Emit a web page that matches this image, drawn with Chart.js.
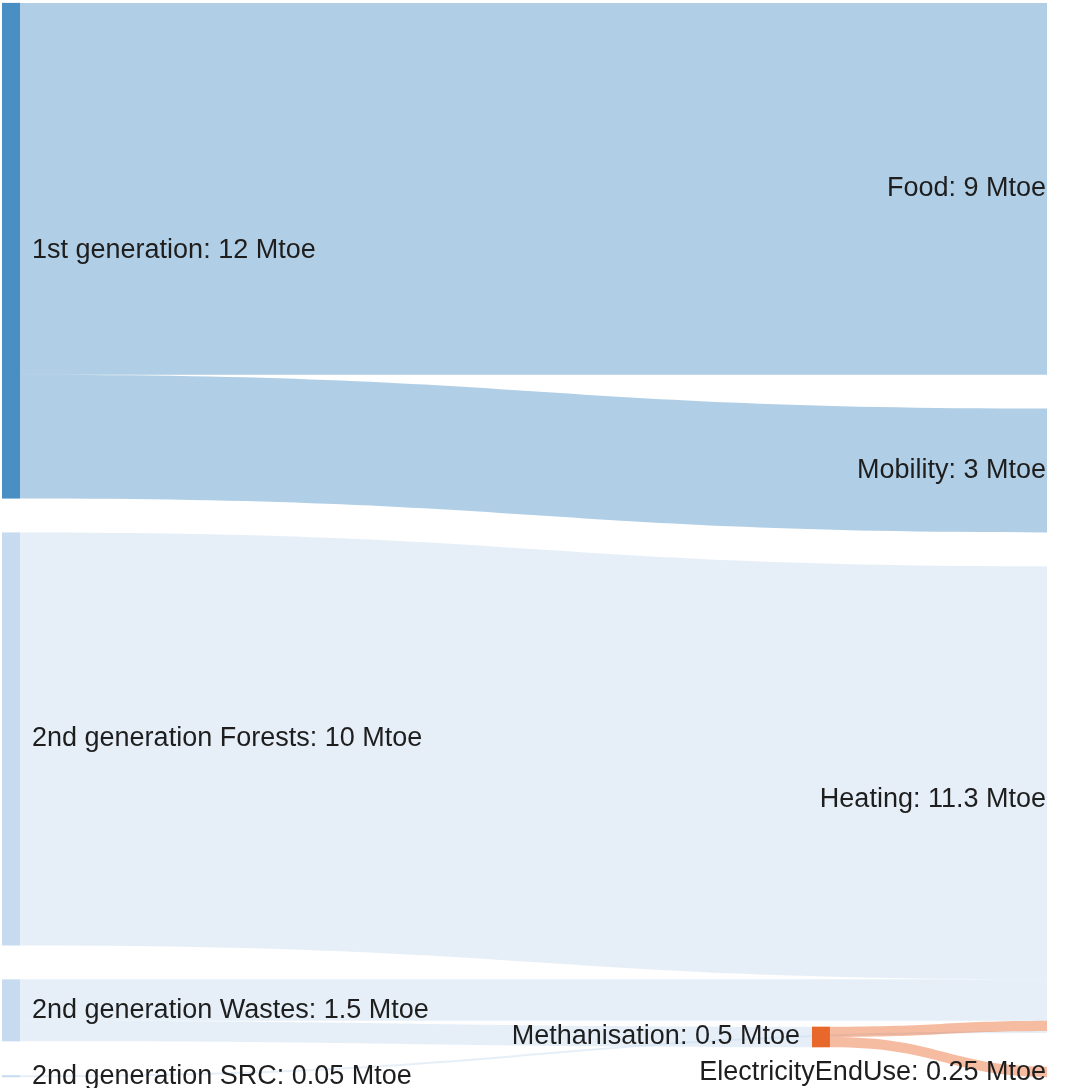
<!DOCTYPE html>
<html>
<head>
<meta charset="utf-8">
<script src="https://cdn.jsdelivr.net/npm/chart.js@4/dist/chart.umd.min.js"></script>
<style>
  html, body { margin: 0; padding: 0; background: #fff; }
  #wrap { width: 1076px; height: 1088px; }
</style>
</head>
<body>
<div id="wrap"><canvas id="sankey" width="1076" height="1088"></canvas></div>
<script>
// nodes (name, column)
const nodeNames = ['1st generation', '2nd generation Forests', '2nd generation Wastes', '2nd generation SRC',
    'Methanisation', 'Food', 'Mobility', 'Heating', 'ElectricityEndUse']
const nodeLevels = [0, 0, 0, 0, 1, 2, 2, 2, 2]

// flows, Mtoe
const linkFrom = ['1st generation', '1st generation', '2nd generation Forests', '2nd generation Wastes',
    '2nd generation Wastes', '2nd generation SRC', 'Methanisation', 'Methanisation']
const linkTo = ['Food', 'Mobility', 'Heating', 'Heating', 'Methanisation', 'Heating', 'Heating', 'ElectricityEndUse']
const linkValues = [9, 3, 10, 1, 0.5, 0.05, 0.25, 0.25]

const unit = 'Mtoe'

// ---- look ----
const nodeColors = ['#4a8fc4', '#c6dbef', '#c6dbef', '#c6dbef', '#e8672b', '#6baed6', '#6baed6', '#9ecae1', '#e8672b']
const linkAlpha = 0.44
const levelX = [0, 0.767, 1]      // column positions on x scale
const nodeWidth = 0.01705         // in x units
const nodeGap = 0.82              // in Mtoe
const visibleRight = 1047         // picture is cropped here
const labelPad = 12
const font = '27px "Liberation Sans", Arial, sans-serif'

function hexA(hex, a) {
    let n = parseInt(hex.slice(1), 16)
    return 'rgba(' + (n >> 16) + ',' + ((n >> 8) & 255) + ',' + (n & 255) + ',' + a + ')'
}

function buildLayout() {
    let nodes = nodeNames.map((name, i) => ({ name: name, level: nodeLevels[i], color: nodeColors[i], ins: [], outs: [] }))
    let byName = {}
    nodes.forEach(n => byName[n.name] = n)
    let links = linkValues.map((v, i) => {
        let l = { source: byName[linkFrom[i]], target: byName[linkTo[i]], value: v }
        l.source.outs.push(l)
        l.target.ins.push(l)
        return l
    })
    nodes.forEach(n => {
        let a = n.ins.reduce((s, l) => s + l.value, 0)
        let b = n.outs.reduce((s, l) => s + l.value, 0)
        n.value = Math.max(a, b)
    })

    // first and last columns are just stacked
    let levels = {}
    nodes.forEach(n => (levels[n.level] = levels[n.level] || []).push(n))
    Object.keys(levels).forEach(k => {
        let y = 0
        levels[k].forEach(n => {
            n.y0 = y
            n.y1 = y + n.value
            y = n.y1 + nodeGap
        })
    })

    function slots() {
        nodes.forEach(n => {
            let y = n.y0
            n.outs.slice().sort((p, q) => (p.target.y0 + p.target.y1) - (q.target.y0 + q.target.y1)).forEach(l => {
                l.sy0 = y; y += l.value; l.sy1 = y
            })
            y = n.y0
            n.ins.slice().sort((p, q) => (p.source.y0 + p.source.y1) - (q.source.y0 + q.source.y1)).forEach(l => {
                l.ty0 = y; y += l.value; l.ty1 = y
            })
        })
    }

    // middle column: pull towards the flows it connects
    let middle = nodes.filter(n => n.level !== 0 && n.level !== 2)
    for (let it = 0; it < 5; it++) {
        slots()
        middle.forEach(n => {
            let w = 0, s = 0
            n.ins.forEach(l => { s += l.value * (l.sy0 + l.sy1) / 2; w += l.value })
            let inC = s / w
            w = 0; s = 0
            n.outs.forEach(l => { s += l.value * (l.ty0 + l.ty1) / 2; w += l.value })
            let outC = s / w
            let c = (2 * inC + outC) / 3
            n.y0 = c - n.value / 2
            n.y1 = c + n.value / 2
        })
    }
    slots()
    return { nodes: nodes, links: links }
}

const graph = buildLayout()

const sankeyPlugin = {
    id: 'sankeyDraw',
    afterDatasetsDraw(chart) {
        let ctx = chart.ctx
        let xs = chart.scales.x, ys = chart.scales.y
        let px = v => xs.getPixelForValue(v)
        let py = v => ys.getPixelForValue(v)

        ctx.save()
        ctx.beginPath()
        ctx.rect(0, 0, visibleRight, chart.height)
        ctx.clip()

        // flows
        graph.links.forEach(l => {
            let x0 = px(levelX[l.source.level] + nodeWidth)
            let x1 = px(levelX[l.target.level])
            let xm = (x0 + x1) / 2
            ctx.beginPath()
            ctx.moveTo(x0, py(l.sy0))
            ctx.bezierCurveTo(xm, py(l.sy0), xm, py(l.ty0), x1, py(l.ty0))
            ctx.lineTo(x1, py(l.ty1))
            ctx.bezierCurveTo(xm, py(l.ty1), xm, py(l.sy1), x0, py(l.sy1))
            ctx.closePath()
            ctx.fillStyle = hexA(l.source.color, linkAlpha)
            ctx.fill()
        })

        // nodes
        graph.nodes.forEach(n => {
            let x0 = px(levelX[n.level]), x1 = px(levelX[n.level] + nodeWidth)
            ctx.fillStyle = n.color
            ctx.fillRect(x0, py(n.y0), x1 - x0, py(n.y1) - py(n.y0))
        })

        // labels
        ctx.font = font
        ctx.fillStyle = '#1e1e1e'
        ctx.textBaseline = 'middle'
        graph.nodes.forEach(n => {
            let val = Math.round(n.value * 100) / 100
            let txt = n.name + ': ' + val + ' ' + unit
            let yc = py((n.y0 + n.y1) / 2)
            if (n.level === 0) {
                ctx.textAlign = 'left'
                ctx.fillText(txt, px(levelX[n.level] + nodeWidth) + labelPad, yc)
            } else {
                ctx.textAlign = 'right'
                ctx.fillText(txt, px(levelX[n.level]) - labelPad, yc)
            }
        })
        ctx.restore()
    }
}

new Chart(document.getElementById('sankey'), {
    type: 'scatter',
    data: { datasets: [{ data: [], pointRadius: 0 }] },
    options: {
        responsive: false,
        animation: false,
        events: [],
        layout: { padding: 0 },
        plugins: { legend: { display: false }, tooltip: { enabled: false } },
        scales: {
            x: { type: 'linear', display: false, min: -0.001894, max: 1.01705 },
            y: { type: 'linear', display: false, reverse: true, min: -0.07, max: 26.27 }
        }
    },
    plugins: [sankeyPlugin]
})
</script>
</body>
</html>
